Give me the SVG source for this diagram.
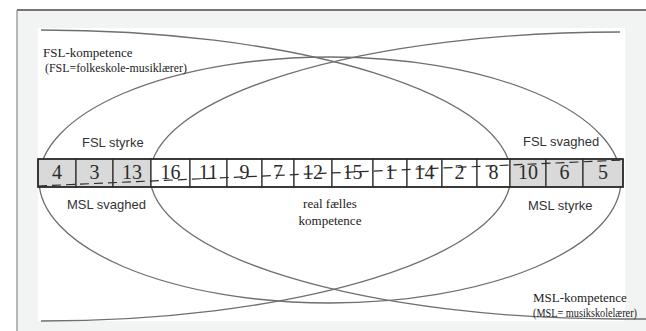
<svg xmlns="http://www.w3.org/2000/svg" width="646" height="331" viewBox="0 0 646 331">
<style>
.curve{fill:none;stroke:#6f6f6f;stroke-width:1.3}
.cell{stroke:#2b2b2b;stroke-width:1.2}
.g{fill:#d9d9d9}
.w{fill:#ffffff}
.num{font-family:"Liberation Serif","Times New Roman",serif;font-size:20px;fill:#2b2b2b;text-anchor:middle}
.sans{font-family:"Liberation Sans",Arial,sans-serif;font-size:13px;fill:#333}
.serif{font-family:"Liberation Serif","Times New Roman",serif;font-size:13px;fill:#222}
</style>
<rect x="0" y="0" width="646" height="331" fill="#ffffff"/>
<rect x="17" y="10" width="629" height="321" fill="#f2f3f3"/>
<rect x="38" y="28" width="587" height="293" fill="#ffffff"/>
<line x1="17" y1="10" x2="646" y2="10" stroke="#4a4a4a" stroke-width="1.5"/>
<line x1="17" y1="10" x2="17" y2="331" stroke="#8a8a8a" stroke-width="1.2"/>
<g id="regions">
<ellipse id="outer-ellipse" cx="330" cy="180" rx="291" ry="123" fill="#f3f5f5" class="curve"/>
<path id="fsl-kompetence" class="curve" d="M41,30 A470,145.5 0 0 1 41,321"/>
<path id="msl-kompetence" class="curve" d="M620,32 A470,143.5 0 0 0 620,319 L646,319"/>
</g>
<g id="cells">
<g id="c4"><rect class="cell g" x="38" y="159" width="38" height="28"/><text class="num" x="57" y="179">4</text></g>
<g id="c3"><rect class="cell g" x="76" y="159" width="37" height="28"/><text class="num" x="94.5" y="179">3</text></g>
<g id="c13"><rect class="cell g" x="113" y="159" width="38" height="28"/><text class="num" x="132" y="179">13</text></g>
<g id="c16"><rect class="cell w" x="151" y="159" width="39" height="28"/><text class="num" x="170.5" y="179">16</text></g>
<g id="c11"><rect class="cell w" x="190" y="159" width="37" height="28"/><text class="num" x="208.5" y="179">11</text></g>
<g id="c9"><rect class="cell w" x="227" y="159" width="35" height="28"/><text class="num" x="244.5" y="179">9</text></g>
<g id="c7"><rect class="cell w" x="262" y="159" width="32" height="28"/><text class="num" x="278" y="179">7</text></g>
<g id="c12"><rect class="cell w" x="294" y="159" width="38" height="28"/><text class="num" x="313" y="179">12</text></g>
<g id="c15"><rect class="cell w" x="332" y="159" width="41" height="28"/><text class="num" x="352.5" y="179">15</text></g>
<g id="c1"><rect class="cell w" x="373" y="159" width="34" height="28"/><text class="num" x="390" y="179">1</text></g>
<g id="c14"><rect class="cell w" x="407" y="159" width="35" height="28"/><text class="num" x="424.5" y="179">14</text></g>
<g id="c2"><rect class="cell w" x="442" y="159" width="35" height="28"/><text class="num" x="459.5" y="179">2</text></g>
<g id="c8"><rect class="cell w" x="477" y="159" width="33" height="28"/><text class="num" x="493.5" y="179">8</text></g>
<g id="c10"><rect class="cell g" x="510" y="159" width="36" height="28"/><text class="num" x="528" y="179">10</text></g>
<g id="c6"><rect class="cell g" x="546" y="159" width="37" height="28"/><text class="num" x="564.5" y="179">6</text></g>
<g id="c5"><rect class="cell g" x="583" y="159" width="40" height="28"/><text class="num" x="603" y="179">5</text></g>
<rect x="38" y="159" width="585" height="28" fill="none" stroke="#2b2b2b" stroke-width="1.6"/>
</g>
<g id="connectors">
<line x1="38" y1="186" x2="623" y2="160" stroke="#2b2b2b" stroke-width="1.2" stroke-dasharray="9 5"/>
</g>
<g id="labels">
<text class="sans" x="82" y="147">FSL styrke</text>
<text class="sans" x="67" y="209">MSL svaghed</text>
<text class="sans" x="523" y="146">FSL svaghed</text>
<text class="sans" x="528" y="210">MSL styrke</text>
<text class="serif" x="330" y="208" font-size="12.7" text-anchor="middle">real fælles</text>
<text class="serif" x="330" y="225" font-size="12.7" text-anchor="middle">kompetence</text>
<text class="serif" x="43" y="57">FSL-kompetence</text>
<text class="serif" x="45" y="72" textLength="142" lengthAdjust="spacingAndGlyphs">(FSL=folkeskole-musiklærer)</text>
<text class="serif" x="533" y="302">MSL-kompetence</text>
<text class="serif" x="533" y="317" font-size="12.5" textLength="104" lengthAdjust="spacingAndGlyphs">(MSL= musikskolelærer)</text>
</g>
</svg>
